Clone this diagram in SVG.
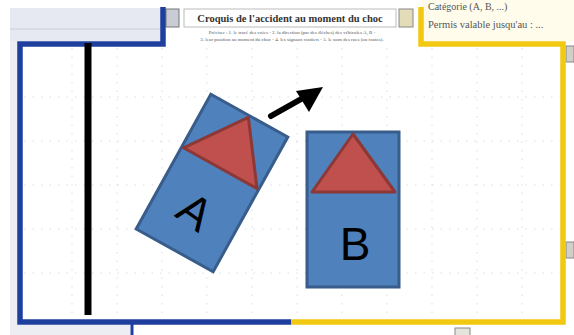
<svg xmlns="http://www.w3.org/2000/svg" width="574" height="335" viewBox="0 0 574 335">
<defs>
<style>
.grid{stroke:#dadde2;stroke-width:1;stroke-dasharray:1.5 7;fill:none}
.car{fill:#4F81BD;stroke:#385D8A;stroke-width:3}
.tri{fill:#C0504D;stroke:#8C3836;stroke-width:3;stroke-linejoin:round}
.lbl{font-family:"Liberation Sans",Arial,sans-serif;font-size:46px;fill:#000;text-anchor:middle}
.hdr{font-family:"Liberation Serif","Times New Roman",serif;fill:#555}
</style>
</defs>
<rect width="574" height="335" fill="#ffffff"/>
<!-- surrounding form background -->
<g id="form-bg">
<rect x="10" y="8" width="152" height="33" fill="#E6E9F2"/>
<line x1="10" y1="29" x2="160" y2="29" stroke="#C9CEDB" stroke-width="1"/>
<rect x="10" y="41" width="8" height="285" fill="#ECEEF3"/>
<rect x="10" y="325" width="120" height="10" fill="#ECEEF3"/>
<rect x="422" y="0" width="152" height="41" fill="#FFFCEB"/>
<text class="hdr" x="428" y="10" font-size="10">Catégorie (A, B, ...)</text>
<text class="hdr" x="428" y="28" font-size="10.5">Permis valable jusqu'au : ...</text>
<rect x="566" y="46" width="8" height="16" fill="#D0D0C8" stroke="#888" stroke-width="1"/>
<rect x="566" y="242" width="8" height="16" fill="#D0D0C8" stroke="#888" stroke-width="1"/>
<rect x="455" y="328" width="15" height="10" fill="#E4E4DC" stroke="#888" stroke-width="1"/>
<line x1="132" y1="323" x2="132" y2="335" stroke="#1E3F9E" stroke-width="3"/>
</g>
<!-- title -->
<g id="title">
<rect x="166" y="9" width="13" height="18" fill="#C8CCD4" stroke="#777" stroke-width="1"/>
<rect x="184" y="9" width="212" height="18" fill="#ffffff" stroke="#bbb" stroke-width="1"/>
<text x="290" y="22" font-family="Liberation Serif,'Times New Roman',serif" font-size="10.5" font-weight="bold" fill="#333" text-anchor="middle">Croquis de l'accident au moment du choc</text>
<rect x="399" y="9" width="14" height="18" fill="#E2DDB8" stroke="#888" stroke-width="1"/>
<text class="hdr" x="292" y="34" font-size="5" text-anchor="middle">Préciser : 1. le tracé des voies - 2. la direction (par des flèches) des véhicules A, B -</text>
<text class="hdr" x="292" y="41" font-size="5" text-anchor="middle">3. leur position au moment du choc - 4. les signaux routiers - 5. le nom des rues (ou routes).</text>
</g>
<!-- grid -->
<g id="grid">
<path class="grid" d="M72,48V318M117,48V318M162,48V318M207,48V318M252,48V318M297,48V318M342,48V318M387,48V318M432,48V318M477,48V318M522,48V318"/>
<path class="grid" d="M24,97H560M24,141H560M24,185H560M24,229H560M24,273H560"/>
</g>
<!-- frame -->
<g id="frame" fill="none" stroke-width="5.5" stroke-linejoin="miter">
<path d="M163,7V44H20V322H291" stroke="#1E3F9E"/>
<path d="M291,322H563V44H421V7" stroke="#F2C811"/>
</g>
<!-- road edge -->
<g id="road">
<line x1="88" y1="43" x2="88" y2="315" stroke="#000" stroke-width="7"/>
</g>
<!-- vehicle A -->
<g id="vehicle-A" transform="translate(212,183) rotate(29)">
<rect class="car" x="-44" y="-77" width="88" height="154"/>
<polygon class="tri" points="0,-75 42,-17 -42,-17"/>
<text class="lbl" x="-1" y="49" transform="rotate(6,-1,33)">A</text>
</g>
<!-- vehicle B -->
<g id="vehicle-B">
<rect class="car" x="307" y="132" width="92" height="155"/>
<polygon class="tri" points="353,134 395,192 312,192"/>
<text class="lbl" x="355" y="260">B</text>
</g>
<!-- connectors -->
<g id="connectors">
<line x1="271" y1="116" x2="303" y2="98" stroke="#000" stroke-width="6" stroke-linecap="round"/>
<polygon points="323,87 296,91 309,112" fill="#000"/>
</g>
</svg>
